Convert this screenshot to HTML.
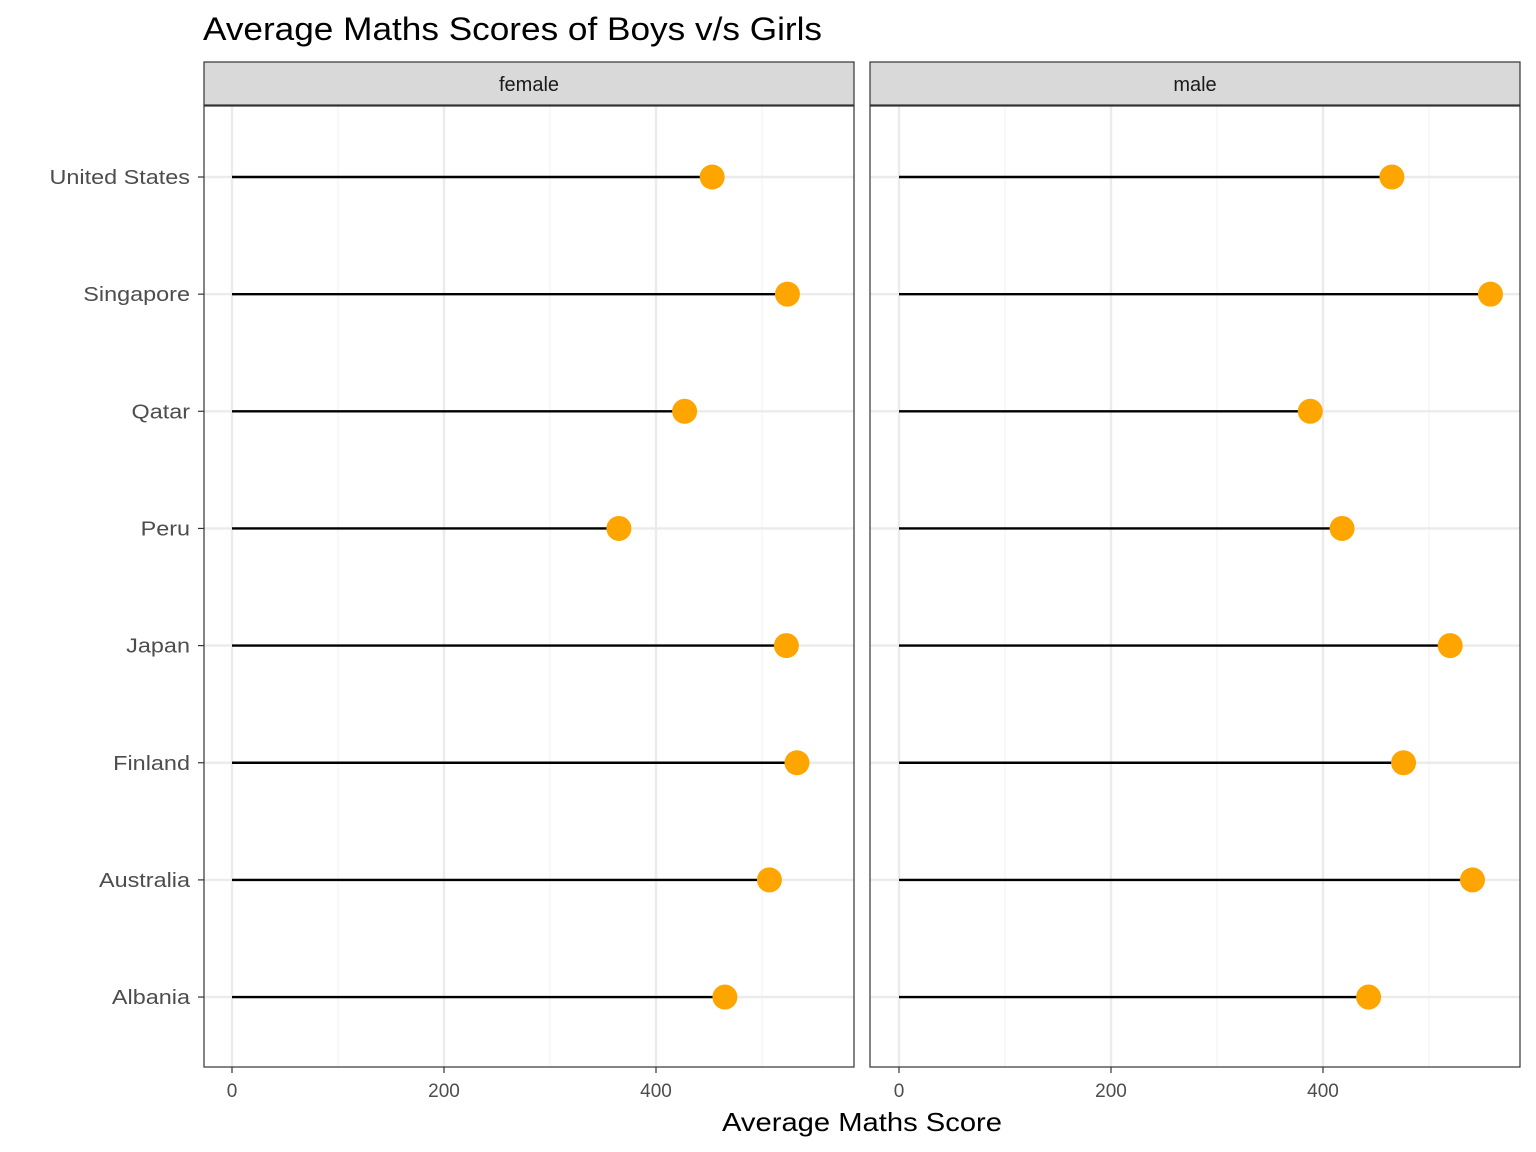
<!DOCTYPE html>
<html><head><meta charset="utf-8">
<style>body{margin:0;background:#fff}svg{display:block;font-family:"Liberation Sans",Arial,sans-serif}</style>
</head><body>
<svg id="chart" width="1536" height="1152" viewBox="0 0 1536 1152" xmlns="http://www.w3.org/2000/svg">
<text x="203" y="40" font-size="32" fill="#000" textLength="619" lengthAdjust="spacingAndGlyphs">Average Maths Scores of Boys v/s Girls</text>
<text x="722" y="1131" font-size="26" fill="#000" textLength="280" lengthAdjust="spacingAndGlyphs">Average Maths Score</text>
<g id="plot"></g>
</svg>
<script>
const countries = ["United States","Singapore","Qatar","Peru","Japan","Finland","Australia","Albania"];
const femaleScores = [453, 524, 427, 365, 523, 533, 507, 465];
const maleScores = [465, 558, 388, 418, 520, 476, 541, 443];
const panels = ["female","male"];
const xTicks = [0, 200, 400];
const xMinor = [100, 300, 500];

const svgNS = "http://www.w3.org/2000/svg";
const g = document.getElementById('plot');
function mk(tag, attrs, parent){const e=document.createElementNS(svgNS,tag);for(const k in attrs)e.setAttribute(k,attrs[k]);(parent||g).appendChild(e);return e;}
const panelLeft=[204,870], panelZero=[232,899], pw=650, plotTop=106, plotBottom=1067;
const pxPerUnit=1.06;
function xScale(p,v){return panelZero[p]+v*pxPerUnit;}
function yScale(i){return 177+i*117.15;}
const series=[femaleScores,maleScores];
panels.forEach((name,p)=>{
  const L=panelLeft[p];
  const strip=mk('rect',{x:L,y:62,width:pw,height:43,fill:'#d9d9d9',stroke:'#333','stroke-width':1.2});
  
  
  const st=mk('text',{x:L+pw/2,y:91,'font-size':20,'text-anchor':'middle',fill:'#1a1a1a'});
  st.textContent=name;
  
  
  xMinor.forEach(v=>{const l=mk('line',{x1:xScale(p,v),x2:xScale(p,v),y1:plotTop,y2:plotBottom,stroke:'#f3f3f3','stroke-width':1.3});
    
    });
  xTicks.forEach(v=>{const l=mk('line',{x1:xScale(p,v),x2:xScale(p,v),y1:plotTop,y2:plotBottom,stroke:'#ebebeb','stroke-width':2.4});
    
    
    const tk=mk('line',{x1:xScale(p,v),x2:xScale(p,v),y1:plotBottom,y2:plotBottom+6,stroke:'#333','stroke-width':1.2});
    
    
    const t=mk('text',{x:xScale(p,v),y:1097,'font-size':19,'text-anchor':'middle',fill:'#4d4d4d'});
    t.textContent=v;
    
    });
  countries.forEach((c,i)=>{const l=mk('line',{x1:L,x2:L+pw,y1:yScale(i),y2:yScale(i),stroke:'#ebebeb','stroke-width':2.4});
    
    });
  countries.forEach((c,i)=>{
    const v=series[p][i];
    const s=mk('line',{x1:xScale(p,0),x2:xScale(p,v),y1:yScale(i),y2:yScale(i),stroke:'#000','stroke-width':2.4});
    
    
    const d=mk('circle',{cx:xScale(p,v),cy:yScale(i),r:12.5,fill:'#ffa500'});
    
    
  });
  const b=mk('rect',{x:L,y:plotTop,width:pw,height:plotBottom-plotTop,fill:'none',stroke:'#333','stroke-width':1.2});
  
  
});
countries.forEach((c,i)=>{
  const tk=mk('line',{x1:198,x2:204,y1:yScale(i),y2:yScale(i),stroke:'#333','stroke-width':1.2});
  
  
  const t=mk('text',{x:190,y:yScale(i)+7,'font-size':20,'text-anchor':'end',fill:'#4d4d4d'});
  t.textContent=c;
  
  
  const w=t.getComputedTextLength();
  t.setAttribute('textLength', (w*1.17).toFixed(1));
  t.setAttribute('lengthAdjust','spacingAndGlyphs');
});
</script>
</body></html>
